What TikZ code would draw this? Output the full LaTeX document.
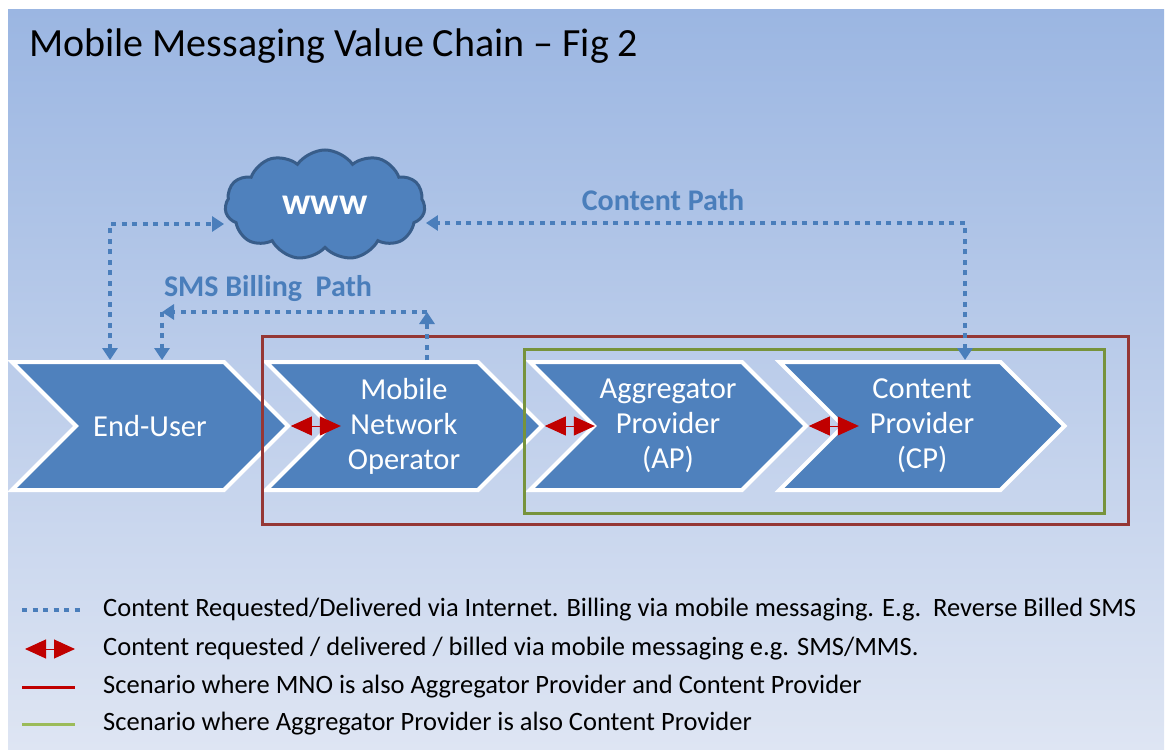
\documentclass[tikz,border=0pt]{standalone}
\usepackage{fontspec}
\setmainfont{Carlito}
\usetikzlibrary{shapes.symbols,arrows.meta}

\definecolor{chainblue}{RGB}{79,129,189}
\definecolor{clouddark}{RGB}{56,93,138}
\definecolor{pathblue}{RGB}{74,126,187}
\definecolor{mnored}{RGB}{149,55,53}
\definecolor{apgreen}{RGB}{119,147,60}
\definecolor{keyred}{RGB}{192,0,0}
\definecolor{keygreen}{RGB}{155,187,89}
\definecolor{bgtop}{RGB}{155,182,226}
\definecolor{bgbot}{RGB}{222,229,243}

\begin{document}
\begin{tikzpicture}[
  x=1pt, y=-1pt, line join=miter,
  chev/.style={signal, signal to=east, signal from=west,
               signal pointer angle=90, draw=white, line width=4pt,
               fill=chainblue, text=white, align=center, inner sep=0pt,
               minimum height=128pt, minimum width=276pt,
               font=\fontsize{30.5}{35}\selectfont},
  dotpath/.style={pathblue, line width=4.5pt, dash pattern=on 5pt off 5.5pt},
  tri/.tip={Triangle[width=15pt, length=12pt]},
  dbl/.style={keyred, line width=1pt,
              {Triangle[width=19pt, length=21pt]}-{Triangle[width=19pt, length=21pt]}},
  lbl/.style={pathblue, font=\fontsize{30}{36}\selectfont\bfseries},
  key/.style={anchor=west, inner sep=0pt, font=\fontsize{26.5}{30}\selectfont}
]

  \useasboundingbox (0,0) rectangle (1166,749);

  % ── Background ────────────────────────────────────────────────────────────
  \shade[top color=bgtop, bottom color=bgbot] (8,10) rectangle (1164,749);

  \node[anchor=base west, inner sep=0pt, font=\fontsize{40}{44}\selectfont]
    (title) at (29,57) {Mobile Messaging Value Chain -- Fig 2};

  % ── Value chain ───────────────────────────────────────────────────────────
  \node[chev] (eu)  at (150,426) {End-User};
  \node[chev] (mno) at (404,426) {Mobile\\Network\\Operator};
  \node[chev] (ap)  at (668,426) {Aggregator\\Provider\\(AP)};
  \node[chev, minimum width=285pt] (cp) at (922,426) {Content\\Provider\\(CP)};

  % mobile messaging links
  \foreach \a in {eu,mno,ap}
    \draw[dbl] (\a.east) -- ++(50,0);

  % Scenario boxes
  \draw[mnored, line width=3pt] (262,336) rectangle (1128,524);
  \draw[apgreen, line width=3pt] (524,349) rectangle (1104,513);

  % ── Internet ──────────────────────────────────────────────────────────────
  \node[cloud, cloud puffs=11, cloud puff arc=110, aspect=1.8,
        draw=clouddark, line width=3pt, fill=chainblue, text=white,
        minimum width=200pt, minimum height=110pt,
        font=\fontsize{38}{42}\selectfont\bfseries] (www) at (325,205) {www};

  \coordinate (wTop) at (110,224);
  \coordinate (cTop) at (965,223);
  \coordinate (sR)   at (427,312);
  \coordinate (sL)   at (162,312);

  % End-User <-> www
  \draw[dotpath, {tri}-{tri}] (eu.north -| wTop) -- (wTop) -- (wTop -| www.west);

  % Content path: CP <-> www
  \draw[dotpath, {tri}-{tri}] (cp.north -| cTop) -- (cTop) -- (cTop -| www.east);
  \node[lbl] (cpath) at (663,200) {Content Path};

  % SMS billing path: MNO -> End-User
  \draw[dotpath, -{tri}] (mno.north -| sR) -- (sR);
  \draw[dotpath, -{tri}] (sR) -- (sL);
  \draw[dotpath, -{tri}] (sL) -- (eu.north -| sL);
  \node[lbl] (smspath) at (268,289) {SMS Billing\ \ Path};

  % ── Key ───────────────────────────────────────────────────────────────────
  \node[key] (k1) at (103,610)
    {Content Requested/Delivered via Internet. Billing via mobile messaging. E.g.\ \ Reverse Billed SMS};
  \node[key] (k2) at (103,649)
    {Content requested / delivered / billed via mobile messaging e.g. SMS/MMS.};
  \node[key] (k3) at (103,687)
    {Scenario where MNO is also Aggregator Provider and Content Provider};
  \node[key] (k4) at (103,724)
    {Scenario where Aggregator Provider is also Content Provider};

  \draw[dotpath] ([xshift=-81pt]k1.west) -- ([xshift=-23pt]k1.west);
  \draw[dbl] ([xshift=-78pt]k2.west) -- ([xshift=-28pt]k2.west);
  \draw[keyred, line width=3pt] ([xshift=-81pt]k3.west) -- ([xshift=-28pt]k3.west);
  \draw[keygreen, line width=3pt] ([xshift=-81pt]k4.west) -- ([xshift=-28pt]k4.west);

\end{tikzpicture}
\end{document}
